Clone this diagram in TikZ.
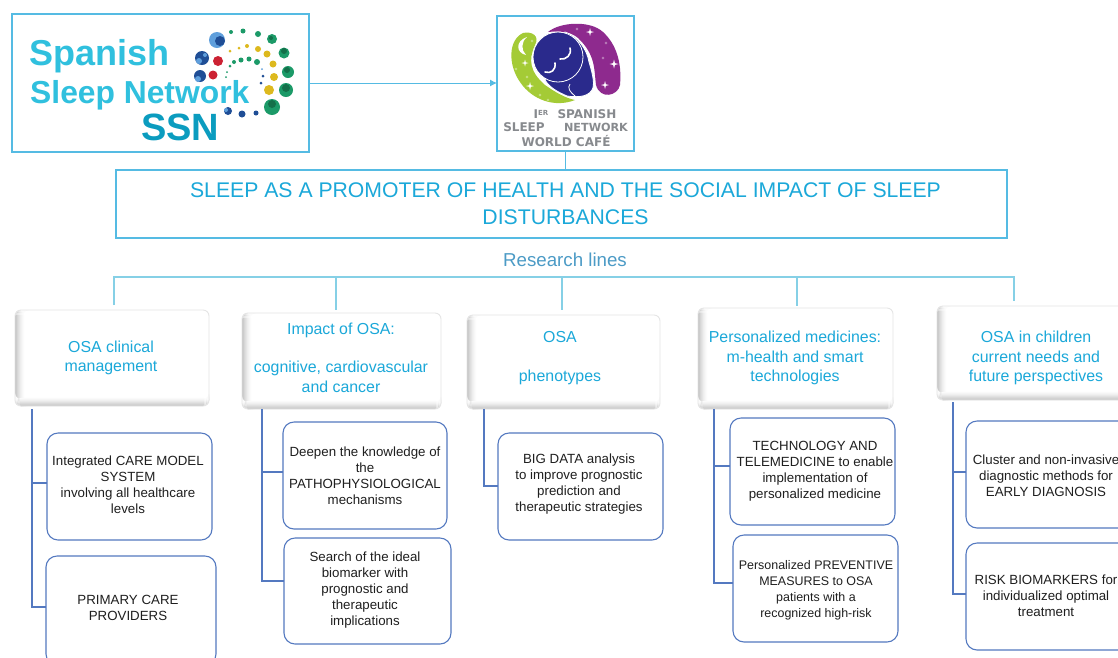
\documentclass[tikz,border=0pt]{standalone}
\usepackage{fontspec}
\setmainfont{Liberation Sans}
\newfontfamily\logofont{DejaVu Sans}
\usetikzlibrary{arrows.meta}
\definecolor{logoline}{HTML}{55BBE3}
\definecolor{busline}{HTML}{86D0E6}
\definecolor{treeline}{HTML}{5479C0}
\definecolor{headtxt}{HTML}{1BA8D9}
\definecolor{restxt}{HTML}{4C9BC6}
\definecolor{ssnlight}{HTML}{30C0DE}
\definecolor{ssndark}{HTML}{0B9CBF}
\definecolor{dotblue}{HTML}{1F4E96}
\definecolor{dotsky}{HTML}{5F9FDC}
\definecolor{dotred}{HTML}{CC2233}
\definecolor{dotgreen}{HTML}{1C9A68}
\definecolor{dotdeep}{HTML}{14704A}
\definecolor{dotyellow}{HTML}{DDB91E}
\definecolor{moongreen}{HTML}{A4CB36}
\definecolor{moonpurple}{HTML}{8E2A8E}
\definecolor{moonnavy}{HTML}{2A2A8C}
\definecolor{logogray}{HTML}{878A8E}
\tikzset{
  x=1pt,y=-1pt,
  logobox/.style={draw=logoline,line width=1.3pt,fill=white,inner sep=0pt,outer sep=0pt},
  titlebox/.style={draw=logoline,line width=1.1pt,fill=white,inner sep=0pt,outer sep=0pt,minimum width=891pt,minimum height=68pt},
  busstyle/.style={draw=busline,line width=1.1pt},
  treestyle/.style={draw=treeline,line width=1.2pt},
  headbox/.style={draw=black!10,line width=0.9pt,rounded corners=6pt,fill=white,inner sep=0pt,outer sep=0pt,
    path picture={
      \foreach \st/\sc in {0/24,1/20,2/16,3/13,4/10,5/7,6/5,7/3,8/1.5}{
        \fill[black!\sc] ([xshift=\st pt]path picture bounding box.south west) rectangle ([xshift=\st pt+1.05pt]path picture bounding box.north west);
      }
      \foreach \st/\sc in {0/22,1/18,2/15,3/12,4/9,5/6,6/4,7/2}{
        \fill[black!\sc] ([yshift=\st pt]path picture bounding box.south west) rectangle ([yshift=\st pt+1.05pt]path picture bounding box.south east);
      }
    }},
  childbox/.style={draw=treeline,line width=1.1pt,rounded corners=11pt,fill=white,inner sep=0pt,outer sep=0pt},
  headtext/.style={text=headtxt,align=center,inner sep=0pt,font=\fontsize{15.9}{19.3}\selectfont},
  childtext/.style={text=black!88,align=center,inner sep=0pt,font=\fontsize{13.3}{16}\selectfont},
  spot/.style={fill=#1,draw=none},
}
\newcommand{\boxat}[7]{% style,name,x1,y1,x2,y2,text
  \pgfmathsetmacro{\bw}{#5-#3}\pgfmathsetmacro{\bh}{#6-#4}
  \pgfmathsetmacro{\bx}{(#3+#5)/2}\pgfmathsetmacro{\by}{(#4+#6)/2}
  \node[#1,minimum width=\bw pt,minimum height=\bh pt] (#2) at (\bx,\by) {#7};}
\begin{document}
\begin{tikzpicture}
\useasboundingbox (0,0) rectangle (1118,657);
\clip (0,0) rectangle (1118,657);
\fill[white] (0,0) rectangle (1118,657);

% logo boxes
\boxat{logobox}{ssn}{12}{14}{309}{152}{}
\boxat{logobox}{cafe}{497}{16}{634}{151}{}
\draw[draw=logoline,line width=1pt,-{Latex[length=7pt,width=7pt]}] (ssn.east) -- (ssn.east -| cafe.west);
\node[titlebox] (title) at (561.5,204) {};
\node[inner sep=0pt,font=\fontsize{21.2}{27}\selectfont,text=headtxt,align=center] (titlet) at (565.5,204)
  {SLEEP AS A PROMOTER OF HEALTH AND THE SOCIAL IMPACT OF SLEEP\\DISTURBANCES};
\draw[busstyle,draw=logoline] (cafe.south) -- (title.north -| cafe.south);

% SSN logo
\node[anchor=base west,inner sep=0pt,text=ssnlight,font=\fontsize{36}{36}\bfseries\selectfont] (w1) at (29,65) {Spanish};
\node[anchor=base west,inner sep=0pt,text=ssnlight,font=\fontsize{31.8}{32}\bfseries\selectfont] (w2) at (30,103) {Sleep Network};
\node[anchor=base west,inner sep=0pt,text=ssndark,font=\fontsize{38}{38}\bfseries\selectfont] (w3) at (141,140) {SSN};
\foreach \px/\py/\pr/\pc in {
 217/40/8/dotsky,202/58/7/dotblue,200/76/6/dotblue,218/61/5/dotred,213/75/4.5/dotred,
 231/32/2/dotgreen,243/31/2.5/dotgreen,258/34/3/dotgreen,272/39/5/dotgreen,284/53/5.5/dotgreen,288/72/6/dotgreen,286/90/7/dotgreen,272/107/8/dotgreen,
 228/111/4/dotblue,242/114/3.5/dotblue,256/113/2.5/dotblue,
 230/51/1.5/dotyellow,239/48/1.5/dotyellow,247/46/2/dotyellow,258/49/3/dotyellow,267/54/3.5/dotyellow,273/64/3.5/dotyellow,274/77/4/dotyellow,269/90/5/dotyellow,
 226/77/1/dotgreen,227/72/1/dotgreen,230/66/1.5/dotgreen,234/62/2/dotgreen,241/60/2.5/dotgreen,249/59/2.5/dotgreen,257/62/3/dotgreen,
 262/69/1/dotsky,263/76/1.5/dotblue,261/83/1.5/dotblue}
  {\fill[spot=\pc] (\px,\py) circle[radius=\pr];}
% mottling on the larger dots
\foreach \px/\py/\pr/\pc in {
 220/41/5/dotblue,199/61/3/dotsky,205/55/2/dotsky,198/79/3/dotsky,
 272/104/4/dotdeep,286/88/4/dotdeep,287/70/3/dotdeep,284/51/3/dotdeep,271/38/2/dotdeep,226/110/2/dotsky}
  {\fill[spot=\pc] (\px,\py) circle[radius=\pr];}

% Cafe logo
\fill[moonpurple] (548,32) .. controls (560,22) and (590,20) .. (603,32) .. controls (616,44) and (622,62) .. (620,85) .. controls (618,96) and (600,100) .. (596,85) .. controls (594,70) and (596,55) .. (578,38) .. controls (570,31) and (558,31) .. (548,32) -- cycle;
\fill[moongreen] (523,33) .. controls (532,31) and (540,36) .. (535,45) .. controls (528,60) and (530,72) .. (545,85) .. controls (555,92) and (565,98) .. (575,100) .. controls (555,108) and (532,100) .. (520,82) .. controls (508,65) and (508,40) .. (523,33) -- cycle;
\fill[moonnavy,draw=white,line width=0.8pt] (565,32) .. controls (578,36) and (587,50) .. (589,62) .. controls (593,75) and (595,85) .. (592,90) .. controls (587,98) and (575,97) .. (567,96) .. controls (558,92) and (550,88) .. (545,80) -- cycle;
\fill[moonnavy,draw=white,line width=0.8pt] (558,57) circle[radius=25];
\draw[white,line width=0.8pt] (575,96) .. controls (570,92) and (567,88) .. (570,84);
\draw[white,line width=1.6pt,line cap=round] (570,48) .. controls (572,55) and (566,60) .. (560,59);
\draw[white,line width=1.6pt,line cap=round] (555,63) .. controls (556,70) and (551,74) .. (545,72);
\fill[white] (527,37) .. controls (515,41) and (516,53) .. (526,55) .. controls (521,50) and (521,42) .. (527,37) -- cycle;
\foreach \sx/\sy/\sr in {590/32/4,614/64/4.5,605/85/4,525/63/3.5,530/86/4,577/29/1.3,606/43/1.3,603/58/1.3,532/41/1.3,516/69/1.3,527/77/1.3,548/100/1.3,540/95/1.3}
  {\fill[white] (\sx-\sr,\sy) -- (\sx,\sy-\sr*0.25) -- (\sx+\sr,\sy) -- (\sx,\sy+\sr*0.25) -- cycle
     (\sx,\sy-\sr) -- (\sx+\sr*0.25,\sy) -- (\sx,\sy+\sr) -- (\sx-\sr*0.25,\sy) -- cycle;}
\tikzset{cafetext/.style={text=logogray,inner sep=0pt,font=\logofont\fontsize{12}{12}\bfseries\selectfont}}
\node[cafetext] (ca) at (541,114) {I\raisebox{3pt}{\fontsize{7}{7}\selectfont ER}};
\node[cafetext] (cb) at (587,114) {SPANISH};
\node[cafetext] (cc) at (524,127) {SLEEP};
\node[cafetext,font=\logofont\fontsize{11.2}{12}\bfseries\selectfont] (cd) at (596,127) {NETWORK};
\node[cafetext] (ce) at (566,141) {WORLD CAFÉ};

% research lines
\node[text=restxt,inner sep=0pt,font=\fontsize{18.7}{20}\selectfont] (res) at (565,260) {Research lines};
\coordinate (bl) at (114,277);
\coordinate (br) at (1014,277);
\coordinate (d1) at (114,305);
\coordinate (b2) at (336,277);\coordinate (d2) at (336,310);
\coordinate (b3) at (562,277);\coordinate (d3) at (562,310);
\coordinate (b4) at (797,277);\coordinate (d4) at (797,306);
\coordinate (d5) at (1014,301);
\draw[busstyle] (d1) -- (bl) -- (br) -- (d5);
\draw[busstyle] (b2) -- (d2);
\draw[busstyle] (b3) -- (d3);
\draw[busstyle] (b4) -- (d4);

% headers
\boxat{headbox}{h1}{15}{310}{209}{406}{}
\boxat{headbox}{h2}{242}{313}{441}{409}{}
\boxat{headbox}{h3}{467}{315}{660}{409}{}
\boxat{headbox}{h4}{698}{308}{893}{409}{}
\boxat{headbox}{h5}{937}{306}{1135}{400}{}
\node[headtext] (h1t) at (111,358) {OSA clinical\\management};
\node[headtext] (h2t) at (341,357.5) {Impact of OSA:\\\mbox{}\\cognitive, cardiovascular\\and cancer};
\node[headtext] (h3t) at (560,358) {OSA\\\mbox{}\\phenotypes};
\node[headtext] (h4t) at (795,358) {Personalized medicines:\\m-health and smart\\technologies};
\node[headtext] (h5t) at (1036,358) {OSA in children\\current needs and\\future perspectives};

% children
\boxat{childbox}{c11}{47}{433}{212}{540}{}
\boxat{childbox}{c12}{46}{556}{216}{665}{}
\boxat{childbox}{c21}{283}{422}{447}{529}{}
\boxat{childbox}{c22}{284}{538}{451}{644}{}
\boxat{childbox}{c31}{498}{433}{663}{540}{}
\boxat{childbox}{c41}{730}{418}{895}{525}{}
\boxat{childbox}{c42}{733}{535}{898}{642}{}
\boxat{childbox}{c51}{966}{421}{1135}{528}{}
\boxat{childbox}{c52}{966}{543}{1135}{650}{}
\node[childtext] (c11t) at (128,485) {Integrated CARE MODEL\\SYSTEM\\involving all healthcare\\levels};
\node[childtext] (c12t) at (128,608) {PRIMARY CARE\\PROVIDERS};
\node[childtext] (c21t) at (365,476) {Deepen the knowledge of\\the\\PATHOPHYSIOLOGICAL\\mechanisms};
\node[childtext] (c22t) at (365,590) {Search of the ideal\\biomarker with\\prognostic and\\therapeutic\\implications};
\node[childtext] (c31t) at (579,484.5) {BIG DATA analysis\\to improve prognostic\\prediction and\\therapeutic strategies};
\node[childtext] (c41t) at (815,471) {TECHNOLOGY AND\\TELEMEDICINE to enable\\implementation of\\personalized medicine};
\node[childtext,font=\fontsize{12.45}{16}\selectfont] (c42t) at (816,590) {Personalized PREVENTIVE\\MEASURES to OSA\\patients with a\\recognized high-risk};
\node[childtext] (c51t) at (1046,476) {Cluster and non-invasive\\diagnostic methods for\\EARLY DIAGNOSIS};
\node[childtext] (c52t) at (1046,596) {RISK BIOMARKERS for\\individualized optimal\\treatment};

% trunks
\coordinate (t1) at (32,409);\coordinate (y11) at (0,483);\coordinate (y12) at (0,607);
\coordinate (t2) at (262,409);\coordinate (y21) at (0,472);\coordinate (y22) at (0,581);
\coordinate (t3) at (484,409);\coordinate (y31) at (0,486);
\coordinate (t4) at (714,409);\coordinate (y41) at (0,466);\coordinate (y42) at (0,583);
\coordinate (t5) at (953,402);\coordinate (y51) at (0,472);\coordinate (y52) at (0,594);
\draw[treestyle] (t1) |- (c12.west |- y12);
\draw[treestyle] (t1 |- y11) -- (c11.west |- y11);
\draw[treestyle] (t2) |- (c22.west |- y22);
\draw[treestyle] (t2 |- y21) -- (c21.west |- y21);
\draw[treestyle] (t3) |- (c31.west |- y31);
\draw[treestyle] (t4) |- (c42.west |- y42);
\draw[treestyle] (t4 |- y41) -- (c41.west |- y41);
\draw[treestyle] (t5) |- (c52.west |- y52);
\draw[treestyle] (t5 |- y51) -- (c51.west |- y51);
\end{tikzpicture}
\end{document}
